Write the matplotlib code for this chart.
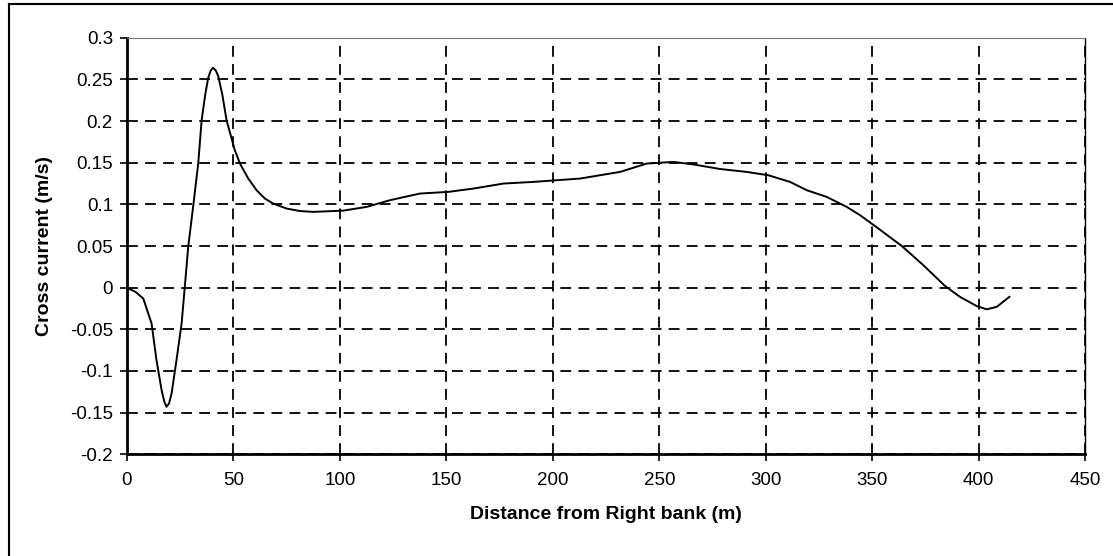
import matplotlib.pyplot as plt
from matplotlib.lines import Line2D

# distance from right bank (m) and cross current (m/s)
dist = [0, 4.0, 7.7, 11.6, 13.9, 16.3, 17.6, 18.6, 19.8, 21.0, 23.3, 25.7, 27.2,
        28.8, 31.1, 33.5, 35.1, 36.8, 38.2, 39.4, 40.5, 41.7, 42.9, 44.8, 46.8,
        50.7, 53.1, 57.0, 60.9, 64.8, 68.7, 75.0, 81.3, 87.5, 101.6, 112.6, 123.5,
        137.6, 150.9, 162.7, 176.8, 190.9, 201.8, 212.8, 231.6, 244.1, 256.6,
        266.0, 278.5, 291.0, 301.2, 311.4, 319.3, 328.6, 338.0, 344.3, 351.3,
        363.9, 374.0, 384.2, 391.2, 399.0, 403.8, 408.5, 414.4]
cross = [0, -0.005, -0.013, -0.043, -0.087, -0.123, -0.137, -0.143, -0.139, -0.127,
         -0.087, -0.043, 0.001, 0.049, 0.097, 0.149, 0.201, 0.232, 0.252, 0.261,
         0.264, 0.261, 0.254, 0.232, 0.201, 0.165, 0.149, 0.131, 0.117, 0.107,
         0.101, 0.095, 0.092, 0.091, 0.0925, 0.097, 0.105, 0.113, 0.115, 0.119,
         0.125, 0.127, 0.129, 0.131, 0.139, 0.149, 0.151, 0.148, 0.1425, 0.139,
         0.135, 0.127, 0.117, 0.109, 0.097, 0.087, 0.074, 0.050, 0.027, 0.002,
         -0.011, -0.022, -0.026, -0.023, -0.011]

xticks = list(range(0, 451, 50))
yticks = [-0.2, -0.15, -0.1, -0.05, 0, 0.05, 0.1, 0.15, 0.2, 0.25, 0.3]
ytick_labels = ['-0.2', '-0.15', '-0.1', '-0.05', '0', '0.05', '0.1', '0.15', '0.2', '0.25', '0.3']

plt.rcParams['font.family'] = ['Liberation Sans', 'DejaVu Sans']

fig = plt.figure(figsize=(11.13, 5.56), dpi=100)
ax = fig.add_axes([0.114, 0.183, 0.861, 0.749])

ax.plot(dist, cross, color='black', lw=1.4)

ax.set_xlim(0, 450)
ax.set_ylim(-0.2, 0.3)
ax.set_xticks(xticks)
ax.set_yticks(yticks)
ax.set_yticklabels(ytick_labels)
ax.tick_params(labelsize=13.5, direction='out', length=5, width=1.2)
ax.tick_params(axis='x', pad=8)
ax.tick_params(axis='y', pad=5)

ax.grid(True, color='black', linestyle=(0, (6, 4)), lw=1.3)
ax.set_axisbelow(True)

ax.spines['left'].set_linewidth(2)
ax.spines['bottom'].set_linewidth(2)
ax.spines['top'].set_linewidth(0.8)
ax.spines['top'].set_color('#777777')
ax.spines['right'].set_linewidth(1)

ax.set_xlabel('Distance from Right bank (m)', fontsize=14, fontweight='bold', labelpad=12)
ax.set_ylabel('Cross current (m/s)', fontsize=14, fontweight='bold', labelpad=12)

# outer frame (left and top edges)
fig.add_artist(Line2D([0.008, 0.008], [0.0, 0.992], color='black', lw=1.5, transform=fig.transFigure))
fig.add_artist(Line2D([0.008, 1.0], [0.992, 0.992], color='black', lw=1.5, transform=fig.transFigure))

fig.savefig('out.png', dpi=100)
